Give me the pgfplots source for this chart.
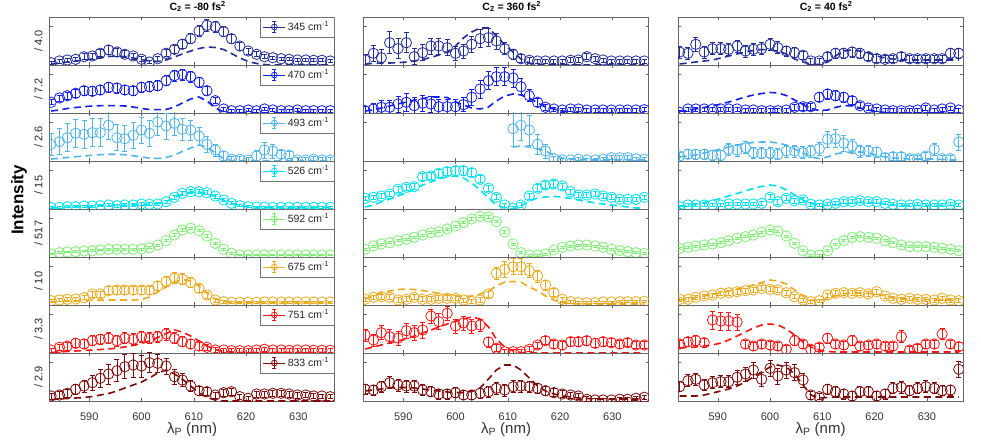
\documentclass[border=0pt]{standalone}
\usepackage{fontspec}
\setmainfont{Liberation Sans}
\usepackage{pgfplots}
\usepackage{pgfplotstable}
\pgfplotsset{compat=1.18}
\definecolor{c345}{RGB}{35,45,150}
\definecolor{c470}{RGB}{20,30,230}
\definecolor{c493}{RGB}{80,180,235}
\definecolor{c526}{RGB}{0,225,240}
\definecolor{c592}{RGB}{125,240,115}
\definecolor{c675}{RGB}{235,170,30}
\definecolor{c751}{RGB}{250,20,20}
\definecolor{c833}{RGB}{125,10,10}

% ---------- column A : C2 = -80 fs^2 ----------
\pgfplotstableread{
x y e m
582.7 2.3 1.5 1
584.3 4 2 2
585.8 5 2 3
587.4 5.7 2 4
589.0 8.3 3 5
590.6 9 3 6
592.1 11.7 3.5 7
593.7 15 4.5 8.5
595.3 13 4 9
596.8 10.7 3.5 8.5
598.4 9 3 7
600.0 5.7 2.5 5.5
601.5 3 1.5 4
603.1 6.3 2.5 3.5
604.7 11.7 3.5 5
606.3 15.7 4 8
607.8 20.7 4.5 11
609.4 26.3 5 14
611.0 34 5.5 16.5
612.5 39.7 6 18
614.1 38.3 5.5 17.5
615.7 33.3 5 15.5
617.2 26.3 4.5 11.5
618.8 19 4 7
620.4 14 3 3.5
622.0 10.7 2.5 1.5
623.5 8.3 2 0.5
625.1 7.3 1.5 0
626.7 6.3 1.5 0
628.2 5.7 1.5 0
629.8 5 1.5 0
631.4 5 1.5 0
632.9 4.7 1.5 0
634.5 4.7 1.5 0
636.1 4 1.5 0
}\dAa
\pgfplotstableread{
x y e m
582.7 10.7 2.5 2
584.3 15 3 3
585.8 17.3 3.5 4.5
587.4 19.7 4 5.5
589.0 22.3 4.5 6.3
590.6 21.7 4.5 7
592.1 23 4.5 7.3
593.7 25.7 5 7.3
595.3 25 5 7.3
596.8 23 4.5 7
598.4 22.3 4.5 6
600.0 25.7 5 4.5
601.5 26.3 5 3.5
603.1 27.3 5 3.3
604.7 32.3 5 3.5
606.3 37.3 5.5 6
607.8 38.3 5.5 10
609.4 36.3 5.5 14
611.0 30.7 5 16
612.5 22.3 4.5 12
614.1 12.3 3 5
615.7 4 2 1
617.2 2.3 1.5 0
618.8 2.3 1.5 0
620.4 3 1.5 0
622.0 2.3 1.5 0
623.5 4 1.5 0
625.1 3 1.5 0
626.7 2.3 1.5 0
628.2 2.3 1.5 0
629.8 3 1.5 0
631.4 2.3 1.5 0
632.9 2.3 1.5 0
634.5 2.3 1.5 0
636.1 2.3 1.5 0
}\dAb
\pgfplotstableread{
x y e m
582.7 16.7 11 2
584.3 19.3 13 2.7
585.8 23.3 14 3.5
587.4 27.7 14 4.3
589.0 26.7 14 5
590.6 28.3 14 5.7
592.1 28.3 14 6.3
593.7 35.7 14 6.7
595.3 23.3 13 6.7
596.8 22.3 13 6.3
598.4 25.7 13 5.3
600.0 31 13 4
601.5 27.7 13 3
603.1 39 13 2.5
604.7 35 13 3.5
606.3 37.7 12 6
607.8 31.7 11 9.5
609.4 31 10 13
611.0 25 9 16
612.5 16.7 8 14
614.1 11 6 8
615.7 5 4.5 2.5
617.2 1.7 3 0.5
618.8 1.7 2.5 0
620.4 1 2.5 0
622.0 5 6 0
623.5 11 8 0
625.1 10 7 0
626.7 6.7 4 0
628.2 5.7 3.5 0
629.8 1 2.5 0
631.4 1 2.5 0
632.9 1.7 2.5 0
634.5 1 2.5 0
636.1 1 2.5 0
}\dAc
\pgfplotstableread{
x y e m
582.7 1.3 1 1
584.3 1.7 1 1.3
585.8 2.3 1 1.7
587.4 2.3 1 2
589.0 3 1 2.3
590.6 3 1 2.7
592.1 3.3 1 3
593.7 4 1.5 3.3
595.3 3.3 1.5 3.5
596.8 4 1.5 3.7
598.4 4 1.5 4
600.0 5 1.5 4.3
601.5 4.7 1.5 4.7
603.1 5 1.5 5.5
604.7 7.3 1.5 7.5
606.3 11.7 2 11
607.8 15.7 2 15
609.4 17.3 2 17
611.0 17.3 2 17
612.5 16.3 2 15.5
614.1 13 2 12.5
615.7 9 1.5 8.5
617.2 5.7 1.5 5.5
618.8 3.3 1 3.3
620.4 2.3 1 2.3
622.0 2 1 2
623.5 2 1 2
625.1 1.7 1 1.7
626.7 1.7 1 1.7
628.2 1.7 1 1.7
629.8 1.7 1 1.7
631.4 1.7 1 1.7
632.9 1.7 1 1.7
634.5 1.7 1 1.7
636.1 1.7 1 1.7
}\dAd
\pgfplotstableread{
x y e
582.7 3 0.8
584.3 4.3 0.8
585.8 5 0.8
587.4 5.3 0.8
589.0 6 0.9
590.6 6.3 0.9
592.1 7 0.9
593.7 7.7 1
595.3 7.7 1
596.8 7.7 1
598.4 7.7 1
600.0 8 1
601.5 9.3 1
603.1 12 1
604.7 16.3 1.1
606.3 22 1.2
607.8 27 1.2
609.4 28.7 1.2
611.0 26.3 1.2
612.5 21 1.2
614.1 13.7 1.1
615.7 7.7 1
617.2 3.7 0.9
618.8 2 0.8
620.4 2 0.8
622.0 2 0.8
623.5 2 0.8
625.1 2 0.8
626.7 2 0.8
628.2 2 0.8
629.8 2 0.8
631.4 2 0.8
632.9 2 0.8
634.5 2 0.8
636.1 2 0.8
}\dAe
\pgfplotstableread{
x y e m
582.7 4.3 1.5 3
584.3 5 1.5 3.5
585.8 5.7 2 4
587.4 6 2 4.3
589.0 7.3 2 4.5
590.6 11 3 4.7
592.1 11 3 4.8
593.7 14.3 4 5
595.3 15 4 5
596.8 15 4 5
598.4 15 4 5
600.0 15 4 5.5
601.5 15 4 8
603.1 19 4.5 13
604.7 23.3 5 18
606.3 26.7 5.5 23
607.8 25.7 5.5 25.5
609.4 22.3 5 24
611.0 16.7 4 19
612.5 10 3 12
614.1 5 2 6
615.7 3.3 1.5 3.5
617.2 2.7 1 2.7
618.8 2.7 1 2.5
620.4 2.7 1 2.5
622.0 2.7 1 2.5
623.5 3 1 2.5
625.1 3 1 2.5
626.7 3 1 2.5
628.2 3 1 2.5
629.8 3 1 2.5
631.4 3 1 2.5
632.9 3 1 2.5
634.5 3 1 2.5
636.1 3 1 2.5
}\dAf
\pgfplotstableread{
x y e m
582.7 3 2 0.5
584.3 5.7 3 1
585.8 7 4 1.5
587.4 9.7 4.5 2
589.0 9 4.5 2.5
590.6 12.3 5 3
592.1 13.7 5 3.5
593.7 14.7 5.5 4
595.3 12.3 5.5 5
596.8 14.7 5.5 6
598.4 13.7 5.5 7.5
600.0 16.3 5.5 9.5
601.5 14.7 5.5 12
603.1 16.3 5.5 15.5
604.7 19 6 19.5
606.3 14.7 5.5 23
607.8 11.3 5 21
609.4 9 4.5 17
611.0 7 4 12
612.5 5.7 3 7
614.1 3 2.5 3.5
615.7 3 2 1.5
617.2 2.3 2 1
618.8 2.3 2 0.5
620.4 2.3 2 0.5
622.0 3 2 0.5
623.5 3.7 2 0.5
625.1 3 2 0.5
626.7 3 2 0.5
628.2 2.7 2 0.5
629.8 3 2 0.5
631.4 3 2 0.5
632.9 2.7 2 0.5
634.5 2.7 2 0.5
636.1 2.7 2 0.5
}\dAg
\pgfplotstableread{
x y e m
582.7 5 3 1.5
584.3 6 3.5 2
585.8 7.7 4 2.5
587.4 11.7 5 3
589.0 15 6 3.5
590.6 18.3 7.5 4.5
592.1 22.7 9 6
593.7 27 10 7.5
595.3 30.3 11 10
596.8 34.3 12 13
598.4 36 12 16
600.0 35 11 19
601.5 38.3 10 23
603.1 37.7 9 28
604.7 35 8 31
606.3 24.3 7.5 27
607.8 21 6.5 22
609.4 15 5.5 15
611.0 10.3 4.5 8
612.5 9.3 4 3.5
614.1 6 3 1
615.7 8.3 3.5 0
617.2 9.3 3.5 0
618.8 4.3 2.5 0
620.4 2.7 2 0
622.0 7 3 0
623.5 7 3 0
625.1 7.7 3 0
626.7 7.7 3 0
628.2 7 3 0
629.8 6 3 0
631.4 6 2.5 0
632.9 5 2.5 0
634.5 5 2 0
636.1 4.3 2 0
}\dAh

% ---------- column B : C2 = 360 fs^2 ----------
\pgfplotstableread{
x y e m
582.7 5 6 1
584.3 11.7 8 1.5
585.8 7.3 8 2
587.4 22.3 11 2
589.0 16.3 10 2.3
590.6 22.3 10 3
592.1 8.3 8 4
593.7 12.3 8 5.5
595.3 19 8 7.5
596.8 19 8 10
598.4 17.3 8 13
600.0 11.7 7 19
601.5 14 7 27
603.1 20.7 8 33
604.7 26.3 9 37
606.3 27.3 9 37
607.8 24 8 29
609.4 16.3 6 20
611.0 10.7 5 13
612.5 6.3 4 6
614.1 4.7 3 2
615.7 4 2 0.5
617.2 4 2 0
618.8 4 2 0
620.4 4 2 0
622.0 4.7 2.5 0
623.5 5 2.5 0
625.1 8.3 3 0
626.7 6.3 2.5 0
628.2 5 2 0
629.8 4 2 0
631.4 4 2 0
632.9 4 2 0
634.5 4 2 0
636.1 4 2 0
}\dBa
\pgfplotstableread{
x y e m
582.7 2.3 4 2
584.3 4 6 3
585.8 5.7 7 5
587.4 5.7 7 7
589.0 9 8 9
590.6 10.7 9 11
592.1 7.3 8 13
593.7 9.7 8 14.5
595.3 9 8 16
596.8 6.3 7 16
598.4 6.3 7 15.5
600.0 6.3 7 11
601.5 8.3 7 8
603.1 15.7 8 5
604.7 24 9 4
606.3 32.3 9 6
607.8 36.3 9 12
609.4 36.3 9 17
611.0 35 9 19
612.5 26.3 8 18
614.1 17.3 6 15
615.7 10.7 4 10
617.2 5.7 3 6
618.8 4 2 4
620.4 3 2 2
622.0 4 2 1
623.5 4 2 0
625.1 3 2 0
626.7 3 2 0
628.2 3 2 0
629.8 3 2 0
631.4 3 2 0
632.9 3 2 0
634.5 3 2 0
636.1 3.3 2 0
}\dBb
\pgfplotstableread{
x y e m
611.0 32.3 17.5 14
612.5 35.7 15 15
614.1 31 15 14
615.7 16.7 10 12
617.2 10 7 10
618.8 2.3 2.5 6
620.4 1 1.5 3
622.0 1 1.5 2
623.5 1.7 1.5 1.5
625.1 1 1.5 1
626.7 1 1.5 1
628.2 1.7 1.5 1
629.8 3.3 2 1
631.4 3.3 2 1
632.9 3.3 2 1
634.5 2.3 1.5 1
636.1 1.7 1.5 1
}\dBc
\pgfplotstableread{
x y e m
582.7 10.7 2 2
584.3 11.7 2 4
585.8 13 2.5 7
587.4 15 2.5 10
589.0 19.7 3 13
590.6 21.7 3 16
592.1 22.3 3 20
593.7 32.3 3.5 24
595.3 33 3.5 27
596.8 35.7 4 30
598.4 37.3 4 32
600.0 38.3 4.5 33
601.5 38.3 4.5 31
603.1 36.3 4 26
604.7 29.7 3.5 19
606.3 20.7 3 11
607.8 11.7 2.5 4
609.4 4 2 1
611.0 0.7 2 0
612.5 4 2.5 3
614.1 13 3 8
615.7 20.7 3.5 11
617.2 24 3.5 12
618.8 25 3.5 12.5
620.4 23 3 12
622.0 17.3 2.5 10.5
623.5 14 2.5 9
625.1 14 2.5 7.5
626.7 15 2.5 6
628.2 13 2.5 5
629.8 11.7 2.5 4
631.4 9.7 2 3
632.9 9.7 2 2
634.5 9.7 2 1
636.1 11.7 2 1
}\dBd
\pgfplotstableread{
x y e
582.7 7.7 1
584.3 11 1
585.8 13 1
587.4 14.3 1
589.0 16.3 1
590.6 17.7 1
592.1 19.7 1
593.7 22 1
595.3 24.3 1
596.8 25.3 1
598.4 28 1
600.0 31 1
601.5 34.5 1.2
603.1 38 1.2
604.7 40.5 1.2
606.3 40 1.2
607.8 35.5 1.2
609.4 25 1.2
611.0 13 1
612.5 4.3 1
614.1 2 1
615.7 2 1
617.2 3 1
618.8 7 1
620.4 9.7 1
622.0 11 1
623.5 12 1
625.1 12 1
626.7 11 1
628.2 9.7 1
629.8 7.7 1
631.4 6.3 1
632.9 5.3 1
634.5 4.3 1
636.1 3.7 1
}\dBe
\pgfplotstableread{
x y e m
582.7 5.7 2 6
584.3 7.7 2 9
585.8 8.3 2.5 12
587.4 7.7 2.5 14
589.0 5 2.5 15.5
590.6 5.7 2.5 16
592.1 7.7 2.5 15.5
593.7 5.7 2.5 14.5
595.3 5.7 2.5 13
596.8 6.7 2.5 11.5
598.4 6.7 2.5 10
600.0 6.7 2.5 9
601.5 5 2 8.5
603.1 3.3 2 9
604.7 5 2.5 11
606.3 11 3 14
607.8 31.7 6 19
609.4 35.7 8 23
611.0 38.3 8 23.5
612.5 38.3 8 23
614.1 34.3 7 18
615.7 29 6 14
617.2 20 5 9
618.8 12.3 4 5
620.4 5.7 2 2.5
622.0 3.3 1.5 1.5
623.5 2.3 1 1
625.1 2.3 1 1
626.7 2.3 1 1
628.2 3 1 1
629.8 3 1 1
631.4 3.3 1 1
632.9 3.3 1 1
634.5 3.3 1 1
636.1 3.7 1 1
}\dBf
\pgfplotstableread{
x y e m
582.7 18 6 4
584.3 13 6 6
585.8 20.3 7 8
587.4 16.3 7 10
589.0 15 7 12
590.6 22.3 7.5 14
592.1 20.3 7.5 17
593.7 23 8 20
595.3 37 7 23
596.8 31.3 8 26
598.4 39.7 7 29
600.0 27 7 32
601.5 30 7 34
603.1 27 7 36
604.7 28 6 34
606.3 11 5 26
607.8 4.7 3.5 14
609.4 1.3 2.5 6
611.0 1.3 2 2
612.5 1.3 2 0.5
614.1 3.7 2.5 0
615.7 8 3 0
617.2 12.3 4 0
618.8 9 4 0
620.4 8 4 0
622.0 11.3 4.5 0
623.5 11.3 4.5 0
625.1 12.3 4.5 0
626.7 9.7 4.5 0
628.2 11.3 4.5 0
629.8 10.3 4 0
631.4 9 4 0
632.9 10.3 4 0
634.5 8 3.5 0
636.1 8 3.5 0
}\dBg
\pgfplotstableread{
x y e m
582.7 11.7 5 10
584.3 11 5 11
585.8 14.3 5.5 12
587.4 18.3 6 13
589.0 16 6 13.5
590.6 15 6 13.5
592.1 15 6 13
593.7 11 5.5 12
595.3 9.3 5 11
596.8 7 5 10
598.4 7 5 9
600.0 8.3 5 8.5
601.5 6 4.5 8.5
603.1 6 4.5 9.5
604.7 7.7 5 13
606.3 9.3 5.5 22
607.8 12.7 6 31
609.4 11 6 36
611.0 14.3 6 36
612.5 15 6 31
614.1 14.3 5.5 23
615.7 12.7 5 15
617.2 10.3 4.5 10
618.8 8.3 4 7
620.4 7 3.5 5
622.0 6 3 4
623.5 5 3 3
625.1 1.7 2.5 2.5
626.7 1 2 2
628.2 1 2 2
629.8 1 2 2
631.4 1.7 2 2
632.9 1.7 2 2
634.5 2.7 2 2
636.1 3.7 2 2
}\dBh

% ---------- column C : C2 = 40 fs^2 ----------
\pgfplotstableread{
x y e m
582.7 13 6 1
584.3 11.7 6 2
585.8 20.7 7 3
587.4 13 6 4
589.0 16.3 6 5
590.6 16.3 6 7
592.1 15.7 6 9
593.7 19 6 11
595.3 14 6 13
596.8 15.7 6 14.5
598.4 16.3 6 15.5
600.0 20.7 6 15
601.5 17.3 6 14
603.1 14 5 11
604.7 12.3 5 6
606.3 9.7 4 3
607.8 4 3 1
609.4 4 3 0.5
611.0 8.3 4 3
612.5 11.7 5 9
614.1 11.7 5 14
615.7 13 5 15
617.2 11.7 5 14
618.8 8.3 4 12
620.4 6.3 4 9
622.0 5.7 3.5 7
623.5 6.3 3.5 6
625.1 8.3 4 5.5
626.7 6.3 3.5 5
628.2 6.3 3.5 5
629.8 6.3 3.5 5
631.4 6.3 3.5 5
632.9 6.3 3.5 5
634.5 11.7 5 5
636.1 11.7 5 5
}\dCa
\pgfplotstableread{
x y e m
582.7 0.7 2 1.5
584.3 4 2 2.5
585.8 4 2 4
587.4 4 2 5.5
589.0 4 2 7
590.6 4 2 9
592.1 4 2 11
593.7 4 2 13.5
595.3 3 2 16
596.8 3 2 18
598.4 2.3 2 19.5
600.0 2.3 2 20.5
601.5 2.3 2 20
603.1 3 2 17.5
604.7 5.7 3 13
606.3 6.3 3.5 8.5
607.8 6.3 3.5 4.5
609.4 15.7 4.5 2.5
611.0 19 5 3
612.5 17.3 5 5.5
614.1 15.7 5 7.5
615.7 12.3 4 7
617.2 7.3 3 5
618.8 5 2.5 3
620.4 4 2 1.5
622.0 3 2 0.5
623.5 2.3 2 0
625.1 2.3 2 0
626.7 2.3 2 0
628.2 3 2 0
629.8 5 2.5 0
631.4 3 2 0
632.9 4 2 0
634.5 5 2 0
636.1 3 2 0
}\dCb
\pgfplotstableread{
x y e m
582.7 5 4 4
584.3 6.7 4.5 5
585.8 6.7 5 6
587.4 6.7 5 8
589.0 5.7 5 10
590.6 5.7 5 12
592.1 11.7 6 14
593.7 11 6 16
595.3 13.3 6 17.5
596.8 8.3 5.5 18.5
598.4 7.7 5.5 19
600.0 7.7 5.5 19
601.5 6.7 5.5 18
603.1 10 6 16
604.7 10 6 12
606.3 8.3 6 8
607.8 10 6 4
609.4 12.3 6.5 2.5
611.0 21.7 8 4
612.5 22.3 9 7
614.1 17.7 8 8.5
615.7 15 7 9
617.2 10 6 9
618.8 10 5.5 8
620.4 9 5 6
622.0 3.3 4 4
623.5 4.3 4 3
625.1 4.3 4 2.5
626.7 2.3 3.5 2
628.2 2.3 3.5 2
629.8 5 4 2
631.4 11.7 6 2
632.9 2.3 3.5 1.5
634.5 2.3 3.5 1
636.1 19 8 1
}\dCc
\pgfplotstableread{
x y e m
582.7 2.3 1.5 2.5
584.3 4 1.5 3.5
585.8 4 1.5 5
587.4 4 1.5 6.5
589.0 4 1.5 8.5
590.6 4 1.5 10.5
592.1 5 1.5 13
593.7 5 1.5 15.5
595.3 5 1.5 18
596.8 5 1.5 20.5
598.4 5.7 2 22.5
600.0 11.7 2.5 24
601.5 7.3 2.5 23
603.1 10.7 2.5 19
604.7 8.3 2.5 14
606.3 9 2.5 9
607.8 4.7 2 5.5
609.4 4 1.5 4
611.0 4.7 1.5 3.5
612.5 5.7 1.5 4
614.1 7.3 2 5
615.7 7.3 2 6
617.2 8.3 2 6.5
618.8 7.3 2 6.5
620.4 7.3 2 6
622.0 5.7 1.5 5
623.5 4.7 1.5 4
625.1 4 1.5 3.5
626.7 4 1.5 3.5
628.2 4.7 1.5 3.5
629.8 4 1.5 3.5
631.4 4 1.5 3.5
632.9 4 1.5 3.5
634.5 4.7 1.5 3.5
636.1 4 1.5 3.5
}\dCd
\pgfplotstableread{
x y e
582.7 8.7 1
584.3 9.7 1
585.8 11 1
587.4 12 1
589.0 13 1
590.6 14.3 1
592.1 16.3 1
593.7 18.7 1
595.3 20.3 1
596.8 22 1
598.4 25 1
600.0 27 1
601.5 26 1
603.1 21 1
604.7 13.7 1
606.3 6.3 1
607.8 2 1
609.4 2 1
611.0 6.3 1
612.5 13 1
614.1 16.3 1
615.7 19.7 1
617.2 20.3 1
618.8 19.7 1
620.4 18.7 1
622.0 16.3 1
623.5 14.3 1
625.1 12 1
626.7 10.3 1
628.2 10.3 1
629.8 10.3 1
631.4 9.7 1
632.9 8.7 1
634.5 7.7 1
636.1 6.3 1
}\dCe
\pgfplotstableread{
x y e m
582.7 5.7 2 5
584.3 5.7 2 6
585.8 7.7 2 7.5
587.4 9 2 9
589.0 10 2 10.5
590.6 11.7 2 12
592.1 12.3 2.5 14
593.7 13.3 2.5 16
595.3 14.3 2.5 18
596.8 15 2.5 20
598.4 16.7 2.5 22.5
600.0 15.7 2.5 25
601.5 15 2.5 24
603.1 12.3 2.5 21
604.7 8.3 2 15
606.3 5 2 9
607.8 3.3 1.5 5
609.4 4.3 1.5 4
611.0 10 2 6
612.5 11.7 2.5 9
614.1 12.3 2.5 11
615.7 11.7 2.5 12
617.2 12.3 2.5 12
618.8 11 2.5 11.5
620.4 13.3 2.5 11
622.0 9 2 9
623.5 6.7 2 7
625.1 5.7 2 6
626.7 6.7 2 6
628.2 5.7 2 5.5
629.8 5.7 2 5.5
631.4 5 2 5
632.9 6.7 2 5
634.5 5 2 5
636.1 4.3 2 4.5
}\dCf
\pgfplotstableread{
x y e m
582.7 9 4 5
584.3 11.3 4.5 5.5
585.8 12.3 5 6
587.4 10.3 4.5 7
589.0 33 9 8
590.6 32 9 10
592.1 32 9 13
593.7 31 8 17
595.3 9 4 21
596.8 7 4 25
598.4 9 4 28
600.0 8 4 29
601.5 7 4 28
603.1 3.7 4 24
604.7 12.3 5 18
606.3 9 4 11
607.8 3.7 4 6
609.4 5.7 4 3
611.0 14.7 5 1.5
612.5 9 4 1
614.1 8 4 1
615.7 12.3 5 1
617.2 7 4 1
618.8 8 4 1
620.4 9 4 1
622.0 7 4 1
623.5 7 4 1
625.1 16.3 6 1
626.7 3 4 1
628.2 4.7 4 1
629.8 9 4 1
631.4 9 4 1
632.9 19 5.5 1
634.5 9 4 1
636.1 6.3 4 1
}\dCg
\pgfplotstableread{
x y e m
582.7 14.3 5 5
584.3 20.3 6 5
585.8 21.7 6 5
587.4 16 5.5 6
589.0 18.3 6 8
590.6 19.3 6 10
592.1 19.3 6 12
593.7 23.7 7 15
595.3 27 7 19
596.8 31 8 24
598.4 21.7 7 29
600.0 32.7 8 34
601.5 25 8 36
603.1 31 8 34
604.7 28.3 8 27
606.3 21 7 16
607.8 6 4 6
609.4 4.3 3 3
611.0 11.7 5 3.5
612.5 9.3 5 4
614.1 7 5 4
615.7 5 4.5 4
617.2 9.3 5 4
618.8 9.3 5 4
620.4 5 4.5 4
622.0 7 5 4
623.5 12.7 5.5 4
625.1 13.7 6 4
626.7 10.3 5 4
628.2 12.7 5.5 4
629.8 14.3 6 4
631.4 12.7 5.5 4
632.9 10.3 5 4
634.5 11 5 4
636.1 31.7 8 4
}\dCh

\pgfplotsset{
  pan/.style={
    scale only axis, width=285pt, height=48pt, anchor=south west,
    xmin=582.4, xmax=636.9, ymin=0, ymax=48,
    xtick={590,600,610,620,630}, xticklabels={},
    ytick={39}, yticklabels={},
    tick align=inside, major tick length=3pt,
    axis line style={draw=black!60, line width=0.5pt},
    tick style={draw=black!60, line width=0.5pt},
    clip marker paths=true,
    unbounded coords=discard,
    ticklabel style={font=\fontsize{11}{13}\selectfont, text=black!80},
    ylabel style={font=\fontsize{11}{13}\selectfont, text=black!85,
      at={(axis description cs:-0.024,0.5)}, anchor=south, inner sep=0pt},
    legend style={at={(1,1)}, anchor=north east, draw=black!55, line width=0.5pt,
      font=\fontsize{10.5}{12}\selectfont, inner xsep=3pt, inner ysep=2.5pt, text=black!85},
    legend cell align=left,
  },
  bot/.style={xticklabels={590,600,610,620,630},
    xticklabel style={yshift=-8.5pt},
    xlabel={λ\textsubscript{P} (nm)},
    xlabel style={at={(axis description cs:0.5,0)}, anchor=north, yshift=-21.5pt,
      inner sep=0pt, font=\fontsize{15}{17}\selectfont, text=black!80}},
  ttl/.style={title={#1}, title style={font=\bfseries\fontsize{10.5}{12}\selectfont,
      at={(axis description cs:0.52,1)}, anchor=south, inner sep=0pt, yshift=-1pt}},
  dat/.style={only marks, mark=o, mark size=5.2pt, line width=0.8pt,
     error bars/y dir=both, error bars/y explicit,
     error bars/error bar style={line width=0.8pt},
     error bars/error mark options={rotate=90, mark size=2.5pt, line width=0.8pt}},
  mdl/.style={no marks, dash pattern=on 7pt off 4.5pt, line width=1.6pt, forget plot},
  ebleg/.style={legend image code/.code={%
     \path (0pt,0pt) -- (22pt,0pt);
     \draw[#1, line width=0.75pt] (11pt,-5.5pt) -- (11pt,5.5pt)
        (9pt,-5.5pt) -- (13pt,-5.5pt) (9pt,5.5pt) -- (13pt,5.5pt);
     \draw[#1, line width=0.75pt] (11pt,0pt) circle (2.9pt);}},
}

\begin{document}
\begin{tikzpicture}
\path[use as bounding box] (0,0) rectangle (981pt,444pt);
\node[rotate=90, font=\bfseries\fontsize{17}{20}\selectfont] at (19pt,244pt) {Intensity};

% ======== column A ========
\begin{axis}[pan, at={(49.5pt,379pt)}, ttl={C\textsubscript{2} = -80 fs\textsuperscript{2}}, ylabel={/ 4.0}, ebleg=c345]
\addplot[mdl, c345] table[x=x, y=m]{\dAa};
\addplot[dat, c345] table[x=x, y=y, y error=e]{\dAa};
\addlegendentry{345 cm\textsuperscript{-1}}
\end{axis}
\begin{axis}[pan, at={(49.5pt,331pt)}, ylabel={/ 7.2}, ebleg=c470]
\addplot[mdl, c470] table[x=x, y=m]{\dAb};
\addplot[dat, c470] table[x=x, y=y, y error=e]{\dAb};
\addlegendentry{470 cm\textsuperscript{-1}}
\end{axis}
\begin{axis}[pan, at={(49.5pt,283pt)}, ylabel={/ 2.6}, ebleg=c493]
\addplot[mdl, c493] table[x=x, y=m]{\dAc};
\addplot[dat, c493] table[x=x, y=y, y error=e]{\dAc};
\addlegendentry{493 cm\textsuperscript{-1}}
\end{axis}
\begin{axis}[pan, at={(49.5pt,235pt)}, ylabel={/ 15}, ebleg=c526]
\addplot[mdl, c526] table[x=x, y=m]{\dAd};
\addplot[dat, c526] table[x=x, y=y, y error=e]{\dAd};
\addlegendentry{526 cm\textsuperscript{-1}}
\end{axis}
\begin{axis}[pan, at={(49.5pt,187pt)}, ylabel={/ 517}, ebleg=c592]
\addplot[dat, c592] table[x=x, y=y, y error=e]{\dAe};
\addlegendentry{592 cm\textsuperscript{-1}}
\end{axis}
\begin{axis}[pan, at={(49.5pt,139pt)}, ylabel={/ 10}, ebleg=c675]
\addplot[mdl, c675] table[x=x, y=m]{\dAf};
\addplot[dat, c675] table[x=x, y=y, y error=e]{\dAf};
\addlegendentry{675 cm\textsuperscript{-1}}
\end{axis}
\begin{axis}[pan, at={(49.5pt,91pt)}, ylabel={/ 3.3}, ebleg=c751]
\addplot[mdl, c751] table[x=x, y=m]{\dAg};
\addplot[dat, c751] table[x=x, y=y, y error=e]{\dAg};
\addlegendentry{751 cm\textsuperscript{-1}}
\end{axis}
\begin{axis}[pan, bot, at={(49.5pt,43pt)}, ylabel={/ 2.9}, ebleg=c833]
\addplot[mdl, c833] table[x=x, y=m]{\dAh};
\addplot[dat, c833] table[x=x, y=y, y error=e]{\dAh};
\addlegendentry{833 cm\textsuperscript{-1}}
\end{axis}

% ======== column B ========
\begin{axis}[pan, at={(363.5pt,379pt)}, ttl={C\textsubscript{2} = 360 fs\textsuperscript{2}}]
\addplot[mdl, c345] table[x=x, y=m]{\dBa};
\addplot[dat, c345] table[x=x, y=y, y error=e]{\dBa};
\end{axis}
\begin{axis}[pan, at={(363.5pt,331pt)}]
\addplot[mdl, c470] table[x=x, y=m]{\dBb};
\addplot[dat, c470] table[x=x, y=y, y error=e]{\dBb};
\end{axis}
\begin{axis}[pan, at={(363.5pt,283pt)}]
\addplot[mdl, c493] table[x=x, y=m]{\dBc};
\addplot[dat, c493] table[x=x, y=y, y error=e]{\dBc};
\end{axis}
\begin{axis}[pan, at={(363.5pt,235pt)}]
\addplot[mdl, c526] table[x=x, y=m]{\dBd};
\addplot[dat, c526] table[x=x, y=y, y error=e]{\dBd};
\end{axis}
\begin{axis}[pan, at={(363.5pt,187pt)}]
\addplot[dat, c592] table[x=x, y=y, y error=e]{\dBe};
\end{axis}
\begin{axis}[pan, at={(363.5pt,139pt)}]
\addplot[mdl, c675] table[x=x, y=m]{\dBf};
\addplot[dat, c675] table[x=x, y=y, y error=e]{\dBf};
\end{axis}
\begin{axis}[pan, at={(363.5pt,91pt)}]
\addplot[mdl, c751] table[x=x, y=m]{\dBg};
\addplot[dat, c751] table[x=x, y=y, y error=e]{\dBg};
\end{axis}
\begin{axis}[pan, bot, at={(363.5pt,43pt)}]
\addplot[mdl, c833] table[x=x, y=m]{\dBh};
\addplot[dat, c833] table[x=x, y=y, y error=e]{\dBh};
\end{axis}

% ======== column C ========
\begin{axis}[pan, at={(678pt,379pt)}, ttl={C\textsubscript{2} = 40 fs\textsuperscript{2}}]
\addplot[mdl, c345] table[x=x, y=m]{\dCa};
\addplot[dat, c345] table[x=x, y=y, y error=e]{\dCa};
\end{axis}
\begin{axis}[pan, at={(678pt,331pt)}]
\addplot[mdl, c470] table[x=x, y=m]{\dCb};
\addplot[dat, c470] table[x=x, y=y, y error=e]{\dCb};
\end{axis}
\begin{axis}[pan, at={(678pt,283pt)}]
\addplot[mdl, c493] table[x=x, y=m]{\dCc};
\addplot[dat, c493] table[x=x, y=y, y error=e]{\dCc};
\end{axis}
\begin{axis}[pan, at={(678pt,235pt)}]
\addplot[mdl, c526] table[x=x, y=m]{\dCd};
\addplot[dat, c526] table[x=x, y=y, y error=e]{\dCd};
\end{axis}
\begin{axis}[pan, at={(678pt,187pt)}]
\addplot[dat, c592] table[x=x, y=y, y error=e]{\dCe};
\end{axis}
\begin{axis}[pan, at={(678pt,139pt)}]
\addplot[mdl, c675] table[x=x, y=m]{\dCf};
\addplot[dat, c675] table[x=x, y=y, y error=e]{\dCf};
\end{axis}
\begin{axis}[pan, at={(678pt,91pt)}]
\addplot[mdl, c751] table[x=x, y=m]{\dCg};
\addplot[dat, c751] table[x=x, y=y, y error=e]{\dCg};
\end{axis}
\begin{axis}[pan, bot, at={(678pt,43pt)}]
\addplot[mdl, c833] table[x=x, y=m]{\dCh};
\addplot[dat, c833] table[x=x, y=y, y error=e]{\dCh};
\end{axis}
\end{tikzpicture}
\end{document}
